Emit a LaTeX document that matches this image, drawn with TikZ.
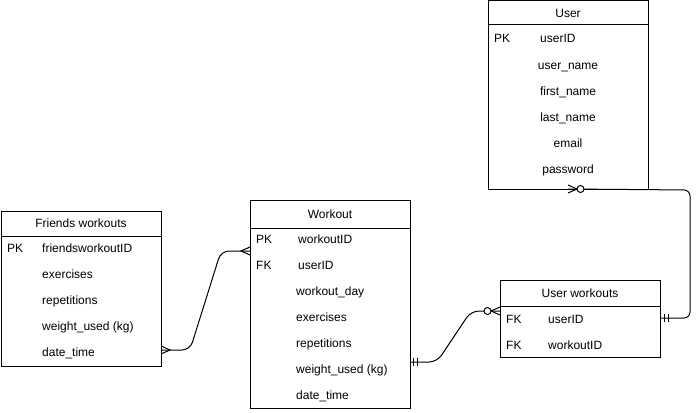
\documentclass[tikz,border=0pt]{standalone}
\usepackage{fontspec}
\setmainfont{Liberation Sans}
\usetikzlibrary{positioning}
\tikzset{
  tbl/.style={draw, line width=1pt, minimum width=160pt, inner sep=0pt, outer sep=0pt,
    font=\fontsize{12}{14}\selectfont},
  fld/.style={anchor=west, inner sep=0pt, text height=8.6pt, text depth=2.6pt,
    font=\fontsize{12}{14}\selectfont},
  mid/.style={inner sep=0pt, text height=8.6pt, text depth=2.6pt,
    font=\fontsize{12}{14}\selectfont},
  rel/.style={line width=1pt, rounded corners=8pt},
  tip/.style={line width=1pt}
}
\begin{document}
\begin{tikzpicture}[x=1pt,y=-1pt]
  \useasboundingbox (0,0) rectangle (700,412);
  % tables
  \node[tbl, minimum height=24pt, anchor=north west] (userH) at (488,1) {User};
  \node[tbl, minimum height=164pt, below=0pt of userH] (userB) {};
  \node[tbl, minimum height=25pt, anchor=north west] (fwH) at (1,211) {Friends workouts};
  \node[tbl, minimum height=130pt, below=0pt of fwH] (fwB) {};
  \node[tbl, minimum height=28pt, anchor=north west] (woH) at (250,200) {Workout};
  \node[tbl, minimum height=180pt, below=0pt of woH] (woB) {};
  \node[tbl, minimum height=26pt, anchor=north west] (uwH) at (500,280) {User workouts};
  \node[tbl, minimum height=51pt, below=0pt of uwH] (uwB) {};
  % User fields
  \node[fld] (userPK) at (494,40) {PK};
  \node[fld] (userID) at (540,40) {userID};
  \node[mid] (userName) at (568,66) {user\_name};
  \node[mid] (userFirst) at (568,92) {first\_name};
  \node[mid] (userLast) at (568,118) {last\_name};
  \node[mid] (userMail) at (568,144) {email};
  \node[mid] (userPass) at (568,170) {password};
  % Friends workouts fields
  \node[fld] (fwPK) at (7,249) {PK};
  \node[fld] (fwID) at (42,249) {friendsworkoutID};
  \node[fld] (fwEx) at (42,275) {exercises};
  \node[fld] (fwRep) at (42,301) {repetitions};
  \node[fld] (fwWt) at (42,327) {weight\_used (kg)};
  \node[fld] (fwDate) at (42,353) {date\_time};
  % Workout fields
  \node[fld] (woPK) at (256,240) {PK};
  \node[fld] (woFK) at (256,266) {FK};
  \node[fld] (woID) at (298,240) {workoutID};
  \node[fld] (woUser) at (298,266) {userID};
  \node[fld] (woDay) at (296,292) {workout\_day};
  \node[fld] (woEx) at (296,318) {exercises};
  \node[fld] (woRep) at (296,344) {repetitions};
  \node[fld] (woWt) at (296,370) {weight\_used (kg)};
  \node[fld] (woDate) at (296,396) {date\_time};
  % User workouts fields
  \node[fld] (uwFK1) at (506,320) {FK};
  \node[fld] (uwFK2) at (506,346) {FK};
  \node[fld] (uwUser) at (548,320) {userID};
  \node[fld] (uwWo) at (548,346) {workoutID};
  % ports
  \coordinate (fwPort) at (fwB.east |- 0,350);
  \coordinate (woPortL) at (woB.west |- 0,251);
  \coordinate (woPortR) at (woB.east |- 0,362);
  \coordinate (uwPortL) at (uwB.west |- 0,311);
  \coordinate (uwPortR) at (uwB.east |- 0,318);
  \coordinate (userPort) at (userB.south);
  % relations
  \draw[rel] (fwPort) -- (190,350) -- (221,251) -- (woPortL);
  \draw[rel] (woPortR) -- (437,362) -- (471,311) -- (uwPortL);
  \draw[rel, rounded corners=6pt] (userPort) -- (690,190) -- (690,318) -- (uwPortR);
  % ends
  \draw[tip] (fwPort) ++(0,-4) -- ++(9,4) -- ++(-9,4);
  \draw[tip] (woPortL) ++(0,-4) -- ++(-9,4) -- ++(9,4);
  \draw[tip] (woPortR) ++(3,-4) -- ++(0,8) ++(4,0) -- ++(0,-8);
  \draw[tip] (uwPortR) ++(4,-4) -- ++(0,8) ++(4,0) -- ++(0,-8);
  \draw[tip] (uwPortL) ++(0,-4) -- ++(-9,4) -- ++(9,4);
  \draw[tip, fill=white] (uwPortL) ++(-12.5,0) circle[radius=3.5pt];
  \draw[tip] (userPort) ++(0,-4) -- ++(9,4) -- ++(-9,4);
  \draw[tip, fill=white] (userPort) ++(12.5,0) circle[radius=3.5pt];
\end{tikzpicture}
\end{document}
